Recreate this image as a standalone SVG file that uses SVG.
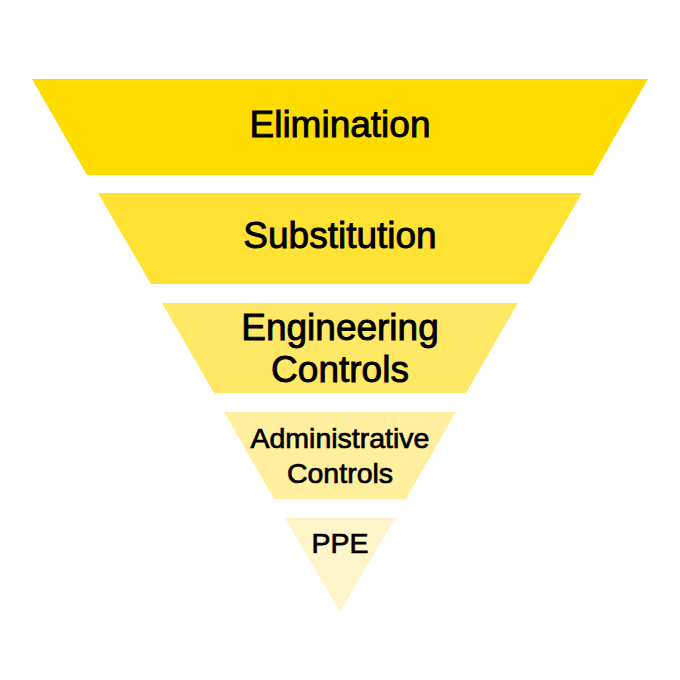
<svg xmlns="http://www.w3.org/2000/svg" width="680" height="680" viewBox="0 0 680 680">
<style>
text{font-family:"Liberation Sans",Arial,Helvetica,sans-serif;fill:#000;stroke:#000;stroke-width:0.9px;text-anchor:middle}
.big{font-size:37px}
.small{font-size:28.5px;stroke-width:0.7px}
</style>
<rect width="680" height="680" fill="#fff"/>
<g id="elimination">
<polygon points="32,79 648,79 593,175 87,175" fill="#FFDC00"/>
<text class="big" x="340" y="137">Elimination</text>
</g>
<g id="substitution">
<polygon points="98,193 582,193 529,284 151,284" fill="#FFE234"/>
<text class="big" x="340" y="248">Substitution</text>
</g>
<g id="engineering">
<polygon points="162,303 518,303 466,393 214,393" fill="#FFE866"/>
<text class="big" x="340" y="340">Engineering</text>
<text class="big" x="340" y="382">Controls</text>
</g>
<g id="administrative">
<polygon points="224,412 456,412 406,499 274,499" fill="#FFEF9E"/>
<text class="small" x="340" y="448">Administrative</text>
<text class="small" x="340" y="483">Controls</text>
</g>
<g id="ppe">
<polygon points="285,518 395,518 340,612" fill="#FFF5C8"/>
<text class="small" x="340" y="553">PPE</text>
</g>
<g id="connectors"/>
</svg>
